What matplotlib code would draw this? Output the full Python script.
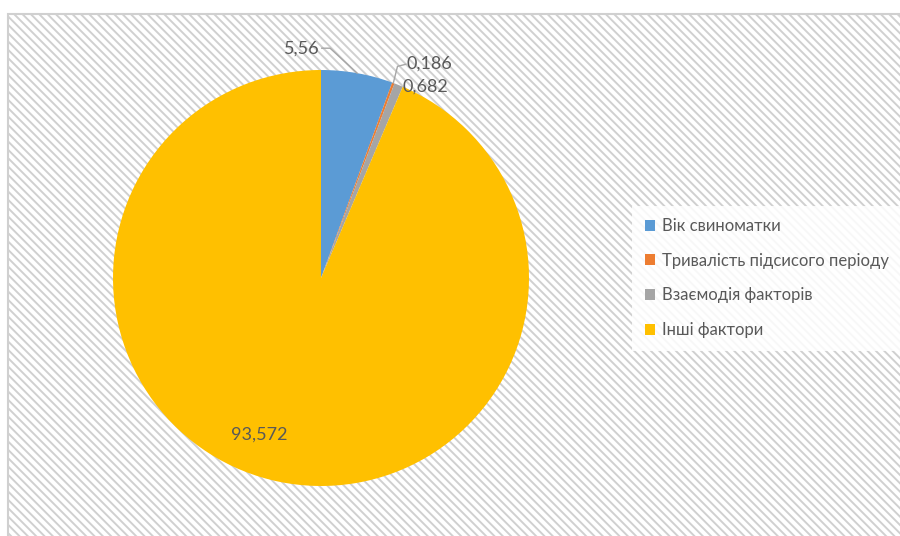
import numpy as np
import matplotlib.pyplot as plt
from matplotlib.patches import Rectangle

# Дані
categories = ['Вік свиноматки', 'Тривалість підсисого періоду', 'Взаємодія факторів', 'Інші фактори']
values = [5.56, 0.186, 0.682, 93.572]
value_labels = ['5,56', '0,186', '0,682', '93,572']
colors = ['#5B9BD5', '#ED7D31', '#A5A5A5', '#FFC000']

plt.rcParams['font.family'] = ['Lato', 'DejaVu Sans']
plt.rcParams['hatch.color'] = '#e4e4e4'
plt.rcParams['hatch.linewidth'] = 1.4

W, H = 900, 536
fig = plt.figure(figsize=(W / 100, H / 100), dpi=100)
fig.patch.set_facecolor('white')

# фон області діаграми (штриховка)
bg = fig.add_axes([0, 0, 1, 1])
bg.set_xlim(0, W)
bg.set_ylim(H, 0)
bg.axis('off')
bg.add_patch(Rectangle((8, 14), W, H, facecolor='white', edgecolor='#d0d0d0',
                       linewidth=1.5, hatch='\\' * 4))

# кругова діаграма
cx, cy, r = 321, 278, 208
ax = fig.add_axes([(cx - r) / W, (H - cy - r) / H, 2 * r / W, 2 * r / H])
wedges, _ = ax.pie(values, colors=colors, startangle=90, counterclock=False,
                   radius=1, wedgeprops=dict(linewidth=0))
ax.set_xlim(-1, 1)
ax.set_ylim(-1, 1)
ax.axis('off')

txt = dict(color='#595959', fontsize=13)
lc = '#a6a6a6'

def edge(w, k=1.0):
    a = np.deg2rad((w.theta1 + w.theta2) / 2)
    return k * np.cos(a), k * np.sin(a)

# 5,56
x0, y0 = edge(wedges[0])
ax.plot([x0, x0 - 0.13, x0 - 0.17], [y0, y0 + 0.12, y0 + 0.12], color=lc, lw=1, clip_on=False)
ax.text(x0 - 0.18, y0 + 0.12, value_labels[0], ha='right', va='center', **txt)

# 0,186
x1, y1 = edge(wedges[1])
ax.plot([x1, x1 + 0.02, x1 + 0.06], [y1, y1 + 0.08, y1 + 0.09], color=lc, lw=1, clip_on=False)
ax.text(x1 + 0.065, y1 + 0.095, value_labels[1], ha='left', va='center', **txt)

# 0,682
x2, y2 = edge(wedges[2])
ax.text(x2 + 0.02, y2 - 0.01, value_labels[2], ha='left', va='center', **txt)

# 93,572
a3 = np.deg2rad((wedges[3].theta1 + wedges[3].theta2) / 2 - 10)
ax.text(0.81 * np.cos(a3), 0.81 * np.sin(a3), value_labels[3], ha='center', va='center', **txt)

leg = fig.legend(wedges, categories, loc='center left', bbox_to_anchor=(632 / W, 1 - 278 / H),
                 frameon=True, fancybox=False, facecolor='white', edgecolor='none', framealpha=0.85,
                 fontsize=12, labelcolor='#595959', handlelength=0.65, handleheight=0.65,
                 handletextpad=0.4, labelspacing=1.12, borderpad=0.75, borderaxespad=0)

fig.savefig('out.png', dpi=100)
